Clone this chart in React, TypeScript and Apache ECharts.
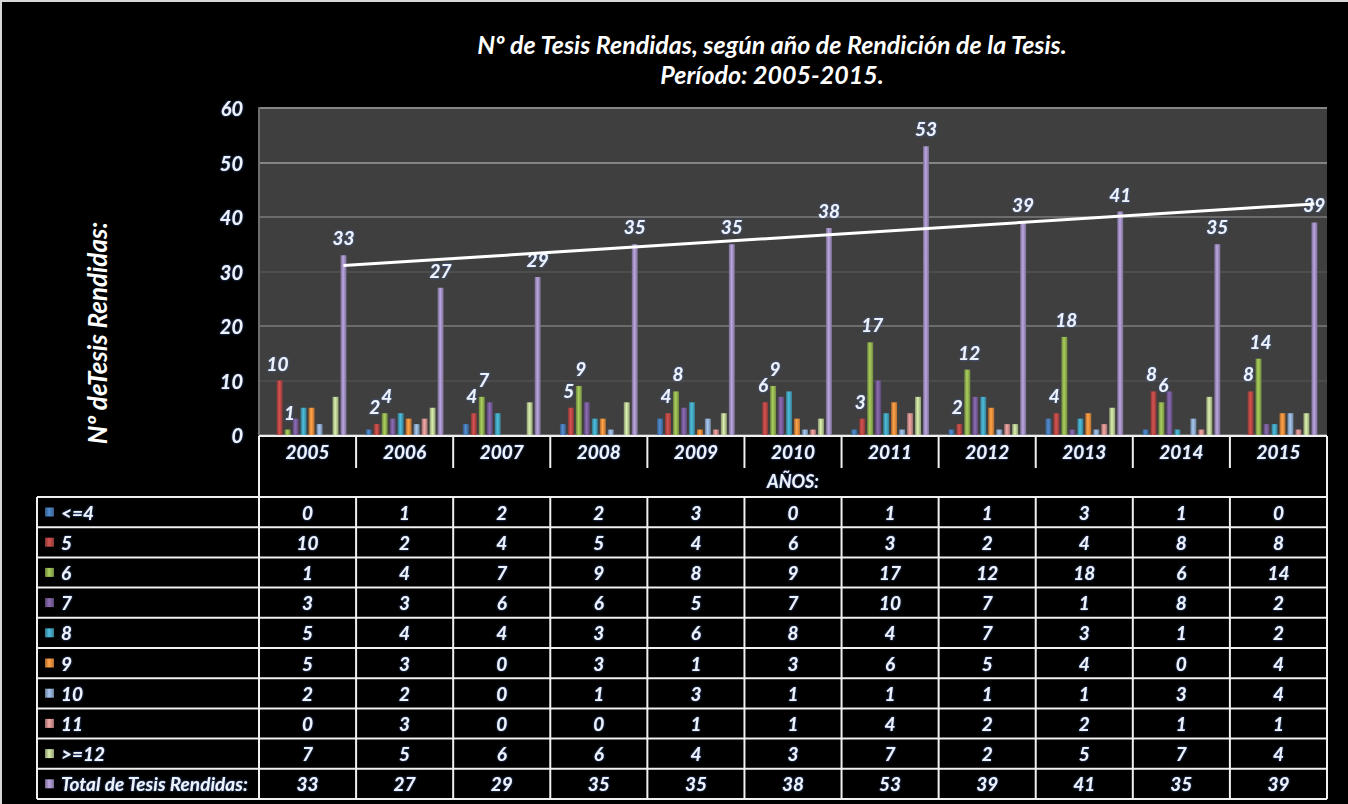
import React, { useEffect, useRef } from 'react';
import * as echarts from 'echarts';

const years = ['2005', '2006', '2007', '2008', '2009', '2010', '2011', '2012', '2013', '2014', '2015'];
const seriesNames = ['<=4', '5', '6', '7', '8', '9', '10', '11', '>=12', 'Total de Tesis Rendidas:'];
const le4 = [0, 1, 2, 2, 3, 0, 1, 1, 3, 1, 0];
const s5 = [10, 2, 4, 5, 4, 6, 3, 2, 4, 8, 8];
const s6 = [1, 4, 7, 9, 8, 9, 17, 12, 18, 6, 14];
const s7 = [3, 3, 6, 6, 5, 7, 10, 7, 1, 8, 2];
const s8 = [5, 4, 4, 3, 6, 8, 4, 7, 3, 1, 2];
const s9 = [5, 3, 0, 3, 1, 3, 6, 5, 4, 0, 4];
const s10 = [2, 2, 0, 1, 3, 1, 1, 1, 1, 3, 4];
const s11 = [0, 3, 0, 0, 1, 1, 4, 2, 2, 1, 1];
const ge12 = [7, 5, 6, 6, 4, 3, 7, 2, 5, 7, 4];
const total = [33, 27, 29, 35, 35, 38, 53, 39, 41, 35, 39];
const rows = [le4, s5, s6, s7, s8, s9, s10, s11, ge12, total];
const labeledSeries = [1, 2, 9];
const trendStart = 31.1;
const trendEnd = 42.4;
const titleLines = ['Nº de Tesis Rendidas, según año de Rendición de la Tesis.', 'Período: 2005-2015.'];
const yAxisTitle = 'Nº deTesis Rendidas:';
const xAxisTitle = 'AÑOS:';

const colors = ['#4a7ebb', '#be4b48', '#98b954', '#7d60a0', '#46aac5', '#f69240', '#95b3d7', '#d99694', '#c3d69b', '#a794c8'];

const FONT = 'Lato, "Open Sans", sans-serif';
const TXT = '#eef3fb';
const SH = { textShadowColor: 'rgba(60,110,200,0.9)', textShadowBlur: 2 };

function shade(hex: string, f: number) {
  const n = parseInt(hex.slice(1), 16);
  const r = Math.round(((n >> 16) & 255) * f);
  const g = Math.round(((n >> 8) & 255) * f);
  const b = Math.round((n & 255) * f);
  return `rgb(${Math.min(255, r)},${Math.min(255, g)},${Math.min(255, b)})`;
}

// layout
const GL = 259, GT = 108, GW = 1068, GH = 327;
const GB = GT + GH;
const GR = GL + GW;
const TBL_LEFT = 37;
const ROW_TOP = 497;
const ROW_H = 30.2;
const HEADER_BOTTOM = 468;

export default function App() {
  const ref = useRef<HTMLDivElement>(null);
  useEffect(() => {
    if (!ref.current) return;
    const chart = echarts.init(ref.current, null, { renderer: 'svg' });

    const txtStyle = { color: TXT, fontFamily: FONT, fontStyle: 'italic', fontWeight: 'bold', ...SH };

    const xAxes: any[] = [
      {
        type: 'category', data: years, gridIndex: 0, position: 'bottom',
        axisLine: { show: false }, axisTick: { show: false }, splitLine: { show: false },
        axisLabel: { interval: 0, margin: 16, verticalAlign: 'middle', fontSize: 19, ...txtStyle },
        name: xAxisTitle, nameLocation: 'middle', nameGap: 46,
        nameTextStyle: { fontSize: 18, verticalAlign: 'middle', ...txtStyle },
      },
    ];
    rows.forEach((r, i) => {
      xAxes.push({
        type: 'category', data: years, gridIndex: 0, position: 'bottom',
        axisLine: { show: false }, axisTick: { show: false }, splitLine: { show: false },
        axisLabel: {
          interval: 0, margin: ROW_TOP + ROW_H / 2 + ROW_H * i - GB, verticalAlign: 'middle', fontSize: 19,
          formatter: (_v: string, idx: number) => String(r[idx]), ...txtStyle,
        },
      });
    });

    const labelOffsets: Record<number, number[]> = { 1: [-2, 0], 2: [2, 0], 9: [0, 0] };

    const series: any[] = rows.map((r, i) => {
      const c = colors[i];
      const s: any = {
        type: 'bar', name: seriesNames[i], data: r, xAxisIndex: 0,
        barWidth: 6, barGap: '33%',
        itemStyle: {
          color: new echarts.graphic.LinearGradient(0, 0, 1, 0, [
            { offset: 0, color: shade(c, 0.7) },
            { offset: 0.45, color: shade(c, 1.12) },
            { offset: 1, color: shade(c, 0.75) },
          ]),
        },
        label: labeledSeries.includes(i)
          ? { show: true, position: 'top', distance: 8, offset: labelOffsets[i], fontSize: 19, ...txtStyle }
          : { show: false },
      };
      if (i === 9) {
        s.markLine = {
          silent: true, symbol: ['none', 'none'], label: { show: false },
          lineStyle: { color: '#ffffff', width: 3, type: 'solid' },
          data: [[{ coord: [years[0], trendStart] }, { coord: [years[years.length - 1], trendEnd] }]],
          z: 10,
        };
      }
      return s;
    });

    const lineColor = '#f0f0f0';
    const graphics: any[] = [];
    const hline = (x1: number, x2: number, y: number) =>
      graphics.push({ type: 'line', shape: { x1, y1: y, x2, y2: y }, style: { stroke: lineColor, lineWidth: 2 }, z: 50 });
    const vline = (x: number, y1: number, y2: number) =>
      graphics.push({ type: 'line', shape: { x1: x, y1, x2: x, y2 }, style: { stroke: lineColor, lineWidth: 2 }, z: 50 });

    const tableBottom = ROW_TOP + ROW_H * rows.length;
    hline(GL, GR, GB + 1);
    for (let k = 0; k <= rows.length; k++) hline(TBL_LEFT, GR, ROW_TOP + ROW_H * k);
    vline(TBL_LEFT, ROW_TOP, tableBottom);
    vline(GL, GB + 1, tableBottom);
    vline(GR, GB + 1, tableBottom);
    const cw = GW / years.length;
    for (let k = 1; k < years.length; k++) {
      const x = GL + cw * k;
      vline(x, GB + 1, HEADER_BOTTOM);
      vline(x, ROW_TOP, tableBottom);
    }
    // page frame
    graphics.push({ type: 'rect', shape: { x: 0, y: 0, width: 1348, height: 2 }, style: { fill: '#d8d8d8' }, z: 60 });
    graphics.push({ type: 'rect', shape: { x: 0, y: 0, width: 2, height: 804 }, style: { fill: '#d8d8d8' }, z: 60 });
    // titles
    titleLines.forEach((t, i) => {
      graphics.push({
        type: 'text', x: 772, y: 44 + i * 30, z: 60,
        style: { text: t, fill: '#ffffff', font: `italic bold 25px ${FONT}`, align: 'center', verticalAlign: 'middle' },
      });
    });
    graphics.push({
      type: 'text', x: 97, y: 333, rotation: Math.PI / 2, z: 60,
      style: { text: yAxisTitle, fill: '#ffffff', font: `italic bold 26px ${FONT}`, align: 'center', verticalAlign: 'middle' },
    });

    chart.setOption({
      animation: false,
      backgroundColor: '#000000',
      grid: { left: GL, top: GT, width: GW, height: GH, show: true, backgroundColor: '#3f3f3f', borderWidth: 0 },
      legend: {
        data: seriesNames, orient: 'vertical', left: 45, top: ROW_TOP + 4, padding: 0, itemWidth: 9, itemHeight: 9,
        itemGap: ROW_H - 22, icon: 'rect', selectedMode: false,
        textStyle: { fontSize: 19, lineHeight: 22, padding: [0, 0, 0, 2], ...txtStyle },
      },
      xAxis: xAxes,
      yAxis: {
        type: 'value', min: 0, max: 60, interval: 10,
        axisLine: { show: true, lineStyle: { color: '#6e6e6e', width: 2 } },
        axisTick: { show: false },
        axisLabel: { margin: 16, fontSize: 20, ...txtStyle },
        splitLine: { lineStyle: { color: ['#707070', '#4b4b4b', '#6c6c6c', '#4e4e4e', '#6c6c6c', '#858585', '#858585'], width: 2 } },
      },
      series,
      graphic: graphics,
    });
    return () => chart.dispose();
  }, []);
  return <div ref={ref} style={{ position: 'fixed', left: 0, top: 0, width: 1348, height: 804 }} />;
}
